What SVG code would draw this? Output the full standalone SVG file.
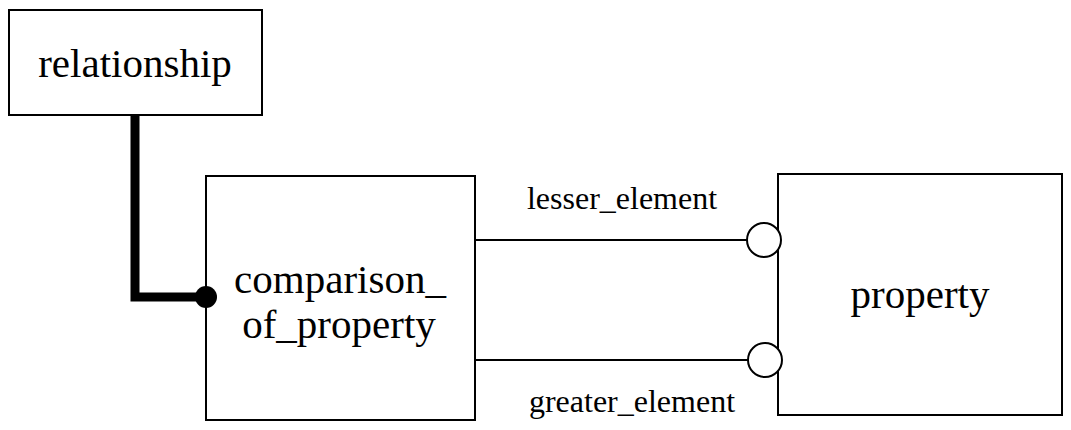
<svg xmlns="http://www.w3.org/2000/svg" width="1071" height="430" viewBox="0 0 1071 430">
<style>
.box{fill:#fff;stroke:#000;stroke-width:2}
.lbl{font-family:"Liberation Serif","Times New Roman",serif;fill:#000;text-anchor:middle}
.big{font-size:41px}
.small{font-size:32px}
.ln{stroke:#000;stroke-width:2;fill:none}
.oc{fill:#fff;stroke:#000;stroke-width:2}
</style>
<rect width="1071" height="430" fill="#fff"/>
<g id="relationship">
<rect class="box" x="9" y="10" width="253" height="105"/>
<text class="lbl big" x="135" y="77">relationship</text>
</g>
<g id="comparison_of_property">
<rect class="box" x="206" y="176" width="269" height="244"/>
<text class="lbl big" x="340" y="293">comparison_</text>
<text class="lbl big" x="339" y="338">of_property</text>
</g>
<g id="property">
<rect class="box" x="778" y="174" width="284" height="241"/>
<text class="lbl big" x="920" y="308">property</text>
</g>
<g id="connectors">
<polyline points="135,115 135,297 206,297" fill="none" stroke="#000" stroke-width="9"/>
<circle cx="206" cy="297" r="11" fill="#000"/>
<line class="ln" x1="475" y1="240" x2="747" y2="240"/>
<circle class="oc" cx="764" cy="240" r="17"/>
<text class="lbl small" x="622" y="209">lesser_element</text>
<line class="ln" x1="475" y1="360" x2="748" y2="360"/>
<circle class="oc" cx="765" cy="360" r="17"/>
<text class="lbl small" x="632" y="412">greater_element</text>
</g>
</svg>
